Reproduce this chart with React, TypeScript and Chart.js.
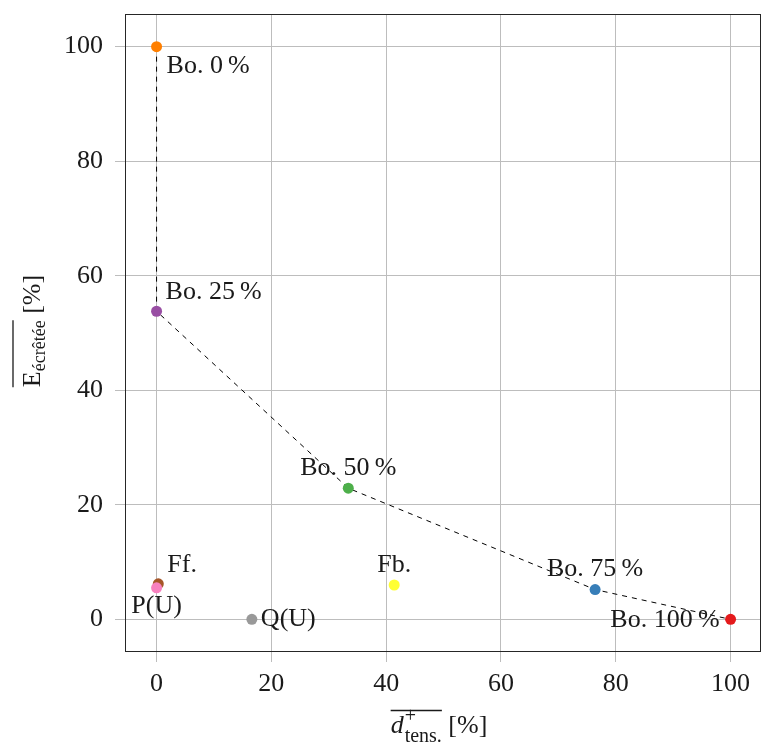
import React, { useEffect, useRef } from "react";
import { Chart, registerables } from "chart.js";

Chart.register(...registerables);

// ---- data ----
const pointNames = ["Bo. 0\u2009%", "Bo. 25\u2009%", "Bo. 50\u2009%", "Bo. 75\u2009%", "Bo. 100\u2009%", "Ff.", "P(U)", "Q(U)", "Fb."];
const dTens = [0, 0, 33.4, 76.4, 100, 0.3, 0, 16.6, 41.4];
const eEcretee = [100, 53.8, 22.9, 5.2, 0, 6.2, 5.5, 0, 6.0];
const pointColors = ["#ff7f00", "#984ea3", "#4daf4a", "#377eb8", "#e41a1c", "#a65628", "#f781bf", "#999999", "#ffff33"];
const labelPlacement = ["below right", "above right", "above", "above", "left", "above right", "below", "right", "above"];
const frontierIndices = [0, 1, 2, 3, 4];
const xTicks = [0, 20, 40, 60, 80, 100];
const yTicks = [0, 20, 40, 60, 80, 100];

const FONT = "'Liberation Serif', 'DejaVu Serif', serif";

const placementOffsets: Record<string, [number, number, CanvasTextAlign]> = {
  "below right": [10, 20, "left"],
  "above right": [9, -19, "left"],
  above: [0, -20, "center"],
  below: [0, 18, "center"],
  left: [-11, 1, "right"],
  right: [9, 0, "left"],
};

const labelsPlugin = {
  id: "pointLabels",
  afterDatasetsDraw(chart: any) {
    const ctx = chart.ctx;
    const meta = chart.getDatasetMeta(1);
    ctx.save();
    ctx.font = `26px ${FONT}`;
    ctx.fillStyle = "#1a1a1a";
    ctx.textBaseline = "middle";
    meta.data.forEach((el: any, i: number) => {
      const [dx, dy, align] = placementOffsets[labelPlacement[i]];
      ctx.textAlign = align;
      ctx.fillText(pointNames[i], el.x + dx, el.y + dy);
    });
    ctx.restore();
  },
};

const framePlugin = {
  id: "frame",
  beforeDatasetsDraw(chart: any) {
    const { ctx, chartArea } = chart;
    ctx.save();
    ctx.strokeStyle = "#262626";
    ctx.lineWidth = 1;
    ctx.strokeRect(
      Math.round(chartArea.left) + 0.5,
      Math.round(chartArea.top) + 0.5,
      Math.round(chartArea.right - chartArea.left) - 1,
      Math.round(chartArea.bottom - chartArea.top) - 1
    );
    ctx.restore();
  },
};

// x tick labels drawn here so they do not add side padding to the layout
const xTickLabelsPlugin = {
  id: "xTickLabels",
  afterDraw(chart: any) {
    const { ctx, chartArea } = chart;
    const xs = chart.scales.x;
    ctx.save();
    ctx.font = `26px ${FONT}`;
    ctx.fillStyle = "#1a1a1a";
    ctx.textAlign = "center";
    ctx.textBaseline = "alphabetic";
    xTicks.forEach((v) => {
      ctx.fillText(String(v), xs.getPixelForValue(v), chartArea.bottom + 39);
    });
    ctx.restore();
  },
};

const titlesPlugin = {
  id: "axisTitles",
  afterDraw(chart: any) {
    const { ctx, chartArea } = chart;
    ctx.save();
    ctx.fillStyle = "#1a1a1a";
    ctx.strokeStyle = "#1a1a1a";
    ctx.textBaseline = "alphabetic";
    ctx.textAlign = "left";

    // x title: overline{d^+_{tens.}} [%]
    const mainIt = `italic 26px ${FONT}`;
    const main = `26px ${FONT}`;
    const smallX = `20px ${FONT}`;
    const smallY = `18px ${FONT}`;
    ctx.font = mainIt;
    const wd = ctx.measureText("d").width;
    ctx.font = smallX;
    const wsup = ctx.measureText("+").width;
    const wsub = ctx.measureText("tens.").width;
    ctx.font = main;
    const wsp = ctx.measureText(" ").width;
    const wbr = ctx.measureText("[%]").width;
    const wScript = Math.max(wsup, wsub);
    const totalX = wd + 1 + wScript + wsp + wbr;
    const cx = (chartArea.left + chartArea.right) / 2 - 4;
    const by = 733;
    const x0 = cx - totalX / 2;
    ctx.font = mainIt;
    ctx.fillText("d", x0, by);
    ctx.font = smallX;
    ctx.fillText("+", x0 + wd + 1, by - 11);
    ctx.fillText("tens.", x0 + wd + 1, by + 9);
    ctx.lineWidth = 1.3;
    ctx.beginPath();
    ctx.moveTo(x0, by - 22.5);
    ctx.lineTo(x0 + wd + 1 + wScript, by - 22.5);
    ctx.stroke();
    ctx.font = main;
    ctx.fillText("[%]", x0 + wd + 1 + wScript + wsp, by);

    // y title: overline{E_{écrêtée}} [%]
    ctx.font = main;
    const wE = ctx.measureText("E").width;
    const wsp2 = ctx.measureText(" ").width;
    const wbr2 = ctx.measureText("[%]").width;
    ctx.font = smallY;
    const wSub2 = ctx.measureText("écrêtée").width;
    const totalY = wE + wSub2 + wsp2 + wbr2;
    const cy = (chartArea.top + chartArea.bottom) / 2 - 2;
    ctx.translate(40, cy);
    ctx.rotate(-Math.PI / 2);
    const s = -totalY / 2;
    ctx.font = main;
    ctx.fillText("E", s, 0);
    ctx.font = smallY;
    ctx.fillText("écrêtée", s + wE, 5);
    ctx.beginPath();
    ctx.moveTo(s, -27);
    ctx.lineTo(s + wE + wSub2, -27);
    ctx.stroke();
    ctx.font = main;
    ctx.fillText("[%]", s + wE + wSub2 + wsp2, 0);
    ctx.restore();
  },
};

export default function App() {
  const canvasRef = useRef<HTMLCanvasElement | null>(null);

  useEffect(() => {
    if (!canvasRef.current) return;
    const frontier = frontierIndices.map((i) => ({ x: dTens[i], y: eEcretee[i] }));
    const points = dTens.map((x, i) => ({ x, y: eEcretee[i] }));
    const gridColor = "#bdbdbd";
    const tickFont = { family: FONT, size: 26 };

    const chart = new Chart(canvasRef.current, {
      type: "scatter",
      data: {
        datasets: [
          {
            label: "frontier",
            data: frontier,
            showLine: true,
            borderColor: "#000000",
            borderWidth: 1,
            borderDash: [5, 5],
            pointRadius: 0,
            tension: 0,
            order: 1,
          } as any,
          {
            label: "points",
            data: points,
            showLine: false,
            pointRadius: 5.5,
            pointBorderWidth: 0,
            pointBackgroundColor: pointColors,
            pointBorderColor: pointColors,
            order: 0,
          } as any,
        ],
      },
      options: {
        animation: false,
        responsive: false,
        maintainAspectRatio: false,
        layout: { autoPadding: false, padding: { top: 14, right: 1, left: 0, bottom: 0 } },
        plugins: {
          legend: { display: false },
          tooltip: { enabled: false },
          title: { display: false },
        },
        scales: {
          x: {
            type: "linear",
            min: -5.5,
            max: 105.3,
            afterBuildTicks: (scale: any) => {
              scale.ticks = xTicks.map((v) => ({ value: v }));
            },
            afterFit: (scale: any) => {
              scale.height = 95;
              scale.paddingLeft = 0;
              scale.paddingRight = 0;
            },
            border: { display: false },
            grid: { color: gridColor, lineWidth: 1, tickLength: 10, tickColor: gridColor, drawTicks: true },
            ticks: { display: false },
          },
          y: {
            type: "linear",
            min: -5.7,
            max: 105.7,
            afterBuildTicks: (scale: any) => {
              scale.ticks = yTicks.map((v) => ({ value: v }));
            },
            afterFit: (scale: any) => {
              scale.width = 125;
              scale.paddingTop = 0;
              scale.paddingBottom = 0;
            },
            border: { display: false },
            grid: { color: gridColor, lineWidth: 1, tickLength: 10, tickColor: gridColor },
            ticks: { font: tickFont, color: "#1a1a1a", padding: 12 },
          },
        },
      },
      plugins: [framePlugin, labelsPlugin, xTickLabelsPlugin, titlesPlugin],
    });
    return () => chart.destroy();
  }, []);

  return (
    <div style={{ position: "fixed", left: 0, top: 0, width: 762, height: 747, background: "#ffffff" }}>
      <canvas ref={canvasRef} width={762} height={747} style={{ display: "block" }} />
    </div>
  );
}
